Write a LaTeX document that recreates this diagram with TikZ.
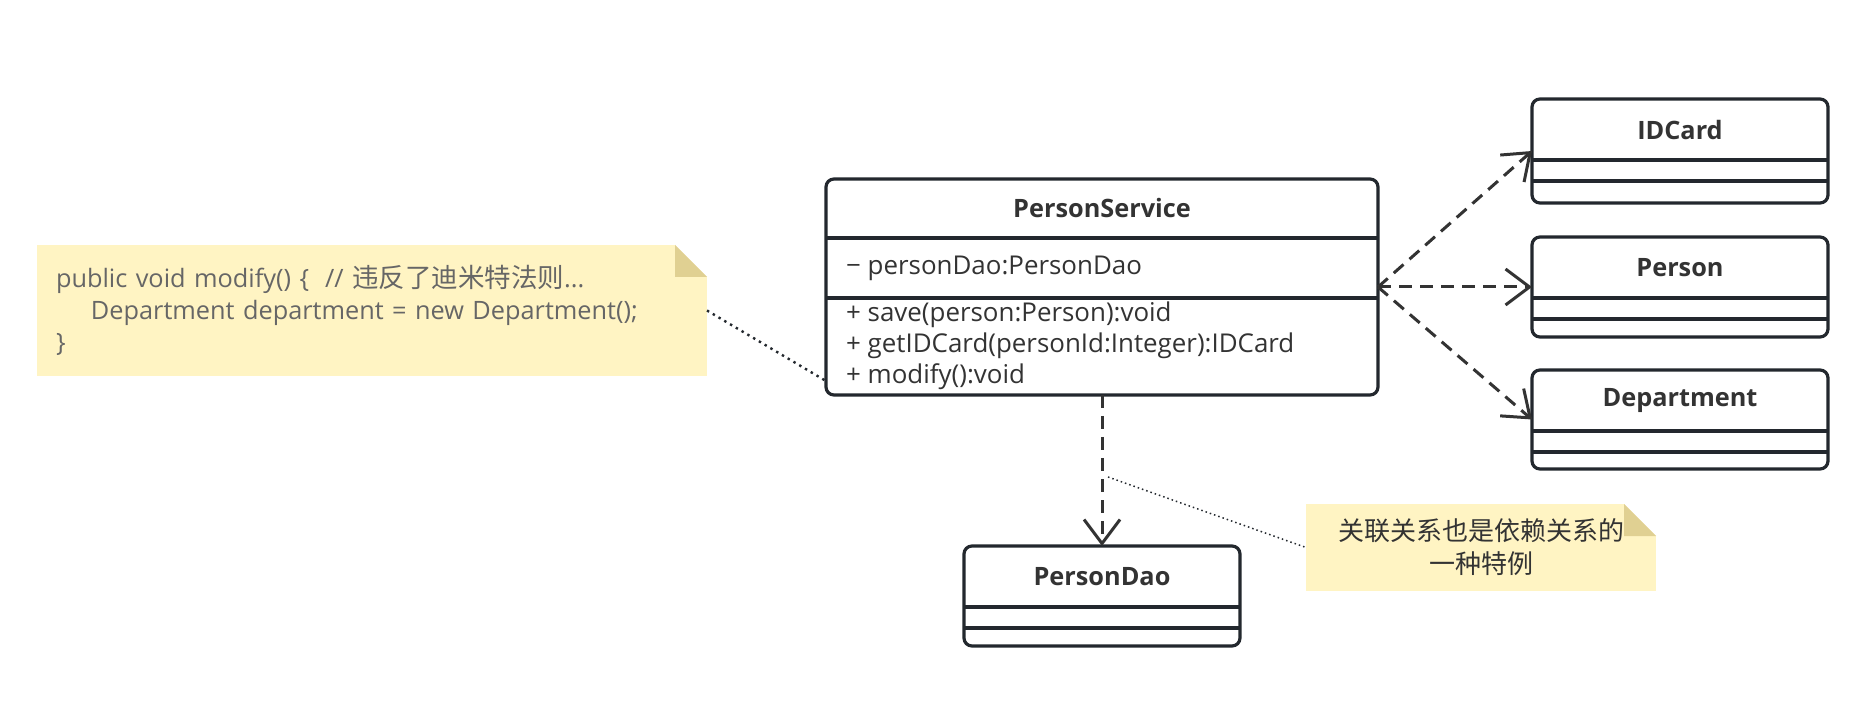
\documentclass[tikz,border=0pt]{standalone}
\usepackage{fontspec}
\setmainfont{Open Sans}
\newfontfamily\cjk{Noto Sans CJK SC}
\usetikzlibrary{arrows.meta,positioning}
\definecolor{umlline}{RGB}{35,40,46}
\definecolor{umltext}{RGB}{51,51,51}
\definecolor{notebg}{RGB}{255,244,195}
\definecolor{notefold}{RGB}{224,208,146}
\definecolor{notetext}{RGB}{102,102,102}
\tikzset{
  clsbox/.style={draw=umlline, line width=3.2pt, rounded corners=8pt, outer sep=0pt, fill=white},
  clssep/.style={draw=umlline, line width=3.2pt},
  clstitle/.style={font=\fontsize{25.3}{29}\selectfont\bfseries, text=umltext},
  member/.style={font=\fontsize{25.9}{30}\selectfont, text=umltext, anchor=west, inner sep=0pt},
  dep/.style={draw=umltext, line width=3pt, dash pattern=on 13pt off 8pt, -{Straight Barb[length=24pt,width=36pt]}},
  notebox/.style={fill=notebg, outer sep=0pt},
  notelink/.style={draw=umlline, line width=2.4pt, dash pattern=on 2.4pt off 4.3pt},
}
\begin{document}
\begin{tikzpicture}[x=1pt,y=-1pt]
  \useasboundingbox[fill=white] (0,0) rectangle (1872,708);
  % PersonService 类
  \node[clsbox, minimum width=552pt, minimum height=216pt, anchor=north west] (ps) at (826,179) {};
  \node[clstitle] (pstitle) at ([yshift=-29pt]ps.north) {PersonService};
  \draw[clssep] ([yshift=-59pt]ps.north west) -- ([yshift=-59pt]ps.north east);
  \draw[clssep] ([yshift=-119pt]ps.north west) -- ([yshift=-119pt]ps.north east);
  \node[member] (psattr) at (846,268) {− personDao:PersonDao};
  \node[member] (save) at (846,315) {+ save(person:Person):void};
  \node[member] (getid) at (846,346) {+ getIDCard(personId:Integer):IDCard};
  \node[member] (modify) at (846,377) {+ modify():void};
  % 其余的类
  \foreach \nm/\txt/\x/\y/\w/\h in {idcard/IDCard/1532/99/296/104, person/Person/1532/237/296/100,
      dept/Department/1532/370/296/99, dao/PersonDao/964/546/276/100}
  {
    \node[clsbox, minimum width=\w pt, minimum height=\h pt, anchor=north west] (\nm) at (\x,\y) {};
    \node[clstitle] (\nm title) at ([yshift=-31pt]\nm.north) {\txt};
    \draw[clssep] ([yshift=-61pt]\nm.north west) -- ([yshift=-61pt]\nm.north east);
    \draw[clssep] ([yshift=-82pt]\nm.north west) -- ([yshift=-82pt]\nm.north east);
  }
  % 依赖关系
  \foreach \t in {idcard, person, dept}
    \draw[dep] (ps.east) -- (\t.west);
  \draw[dep] (ps.south) -- (dao.north);
  % 注释
  \node[notebox, text width=632pt, minimum height=131pt, inner xsep=19pt, inner ysep=0pt, align=left,
        anchor=north west, text=notetext, font=\fontsize{25.3}{32}\selectfont] (note1) at (37,245)
        {public void modify() \{\hspace*{16pt}// {\cjk\fontsize{26.5}{32}\selectfont 违反了迪米特法则}...\\
         \hspace*{35pt}Department department = new Department();\\
         \}};
  \node[notebox, minimum width=350pt, minimum height=87pt, inner sep=0pt, align=center,
        anchor=north west, text=umltext, font=\cjk\fontsize{26}{33}\selectfont] (note2) at (1306,504)
        {关联关系也是依赖关系的\\一种特例};
  \foreach \n in {note1, note2}
  {
    \fill[white] ([xshift=-32pt]\n.north east) -- (\n.north east) -- ([yshift=-32pt]\n.north east) -- cycle;
    \fill[notefold] ([xshift=-32pt]\n.north east) -- ([yshift=-32pt]\n.north east)
      -- ([xshift=-32pt,yshift=-32pt]\n.north east) -- cycle; % 折角
  }
  \coordinate (psnote) at ([yshift=14pt]ps.south west);
  \draw[notelink] (note1.east) -- (psnote);
  \coordinate (daolink) at (1108,477);
  \draw[notelink, line width=1.5pt, dash pattern=on 1.5pt off 3pt] (daolink) -- (note2.west);
\end{tikzpicture}
\end{document}
